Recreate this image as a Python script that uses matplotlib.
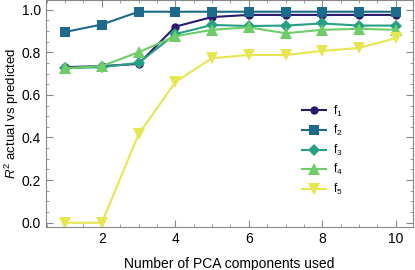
import matplotlib
matplotlib.use("Agg")
import matplotlib.pyplot as plt
from matplotlib.ticker import MultipleLocator

plt.rcParams['font.family'] = ['Liberation Sans', 'DejaVu Sans']
plt.rcParams['mathtext.fontset'] = 'custom'
plt.rcParams['mathtext.it'] = 'Liberation Sans:italic'
plt.rcParams['mathtext.rm'] = 'Liberation Sans'

n_components = [1, 2, 3, 4, 5, 6, 7, 8, 9, 10]
f1 = [0.730, 0.735, 0.745, 0.920, 0.965, 0.975, 0.975, 0.975, 0.975, 0.975]
f2 = [0.895, 0.930, 0.990, 0.990, 0.990, 0.990, 0.990, 0.990, 0.990, 0.990]
f3 = [0.725, 0.730, 0.750, 0.885, 0.928, 0.923, 0.925, 0.935, 0.925, 0.925]
f4 = [0.725, 0.735, 0.800, 0.875, 0.905, 0.917, 0.889, 0.905, 0.910, 0.905]
f5 = [0.000, 0.000, 0.415, 0.660, 0.772, 0.787, 0.787, 0.806, 0.820, 0.866]
labels = ['f$_1$', 'f$_2$', 'f$_3$', 'f$_4$', 'f$_5$']

series = [f1, f2, f3, f4, f5]
colors = ['#2b1a6b', '#1d6a8c', '#25a085', '#6fcd68', '#e8e650']
markers = ['o', 's', 'D', '^', 'v']
msizes = [6, 7.5, 6.5, 8, 8]

fig = plt.figure(figsize=(4.15, 2.70), dpi=100)
ax = fig.add_axes([46/415, 43/270, 367/415, 227/270])

for y, c, m, ms, lab in zip(series, colors, markers, msizes, labels):
    ax.plot(n_components, y, color=c, marker=m, markersize=ms, linewidth=1.5,
            label=lab, markeredgewidth=0)

ax.set_xlim(0.48, 10.47)
ax.set_ylim(-0.02, 1.045)
ax.xaxis.set_major_locator(MultipleLocator(2))
ax.xaxis.set_minor_locator(MultipleLocator(0.5))
ax.yaxis.set_major_locator(MultipleLocator(0.2))
ax.yaxis.set_minor_locator(MultipleLocator(0.05))
ax.tick_params(which='both', direction='in', top=True, right=True, color='#888888',
               labelsize=10)
ax.tick_params(which='major', length=5)
ax.tick_params(which='minor', length=2.5)
ax.set_xticks([2, 4, 6, 8, 10])
ax.set_yticks([0.0, 0.2, 0.4, 0.6, 0.8, 1.0])
ax.set_yticklabels(['0.0', '0.2', '0.4', '0.6', '0.8', '1.0'])
for s in ax.spines.values():
    s.set_color('#888888')

ax.set_xlabel('Number of PCA components used', fontsize=10, labelpad=8)
ax.set_ylabel('$R^2$ actual vs predicted', fontsize=9.5)
ax.yaxis.set_label_coords(-0.068, 0.5)

ax.legend(loc='upper left', bbox_to_anchor=(0.685, 0.565), borderaxespad=0,
          frameon=False, fontsize=8.5, handlelength=2.0, labelspacing=0.38,
          handletextpad=0.6)

fig.savefig('out.png', dpi=100)
